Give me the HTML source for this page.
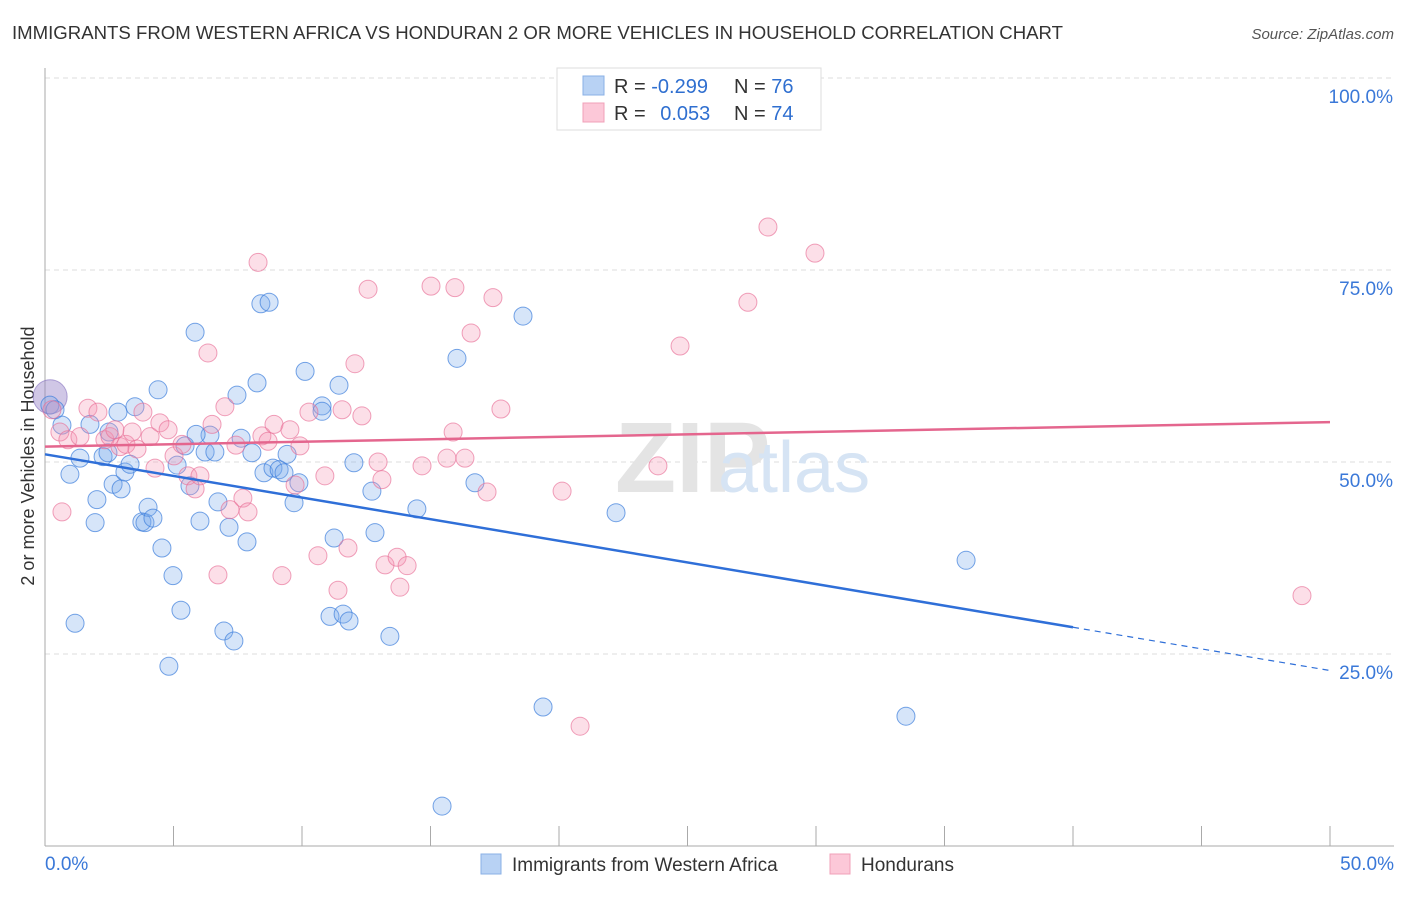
<!DOCTYPE html>
<html><head><meta charset="utf-8"><style>
body{margin:0;background:#fff;font-family:"Liberation Sans",sans-serif}
svg text{font-family:"Liberation Sans",sans-serif}
</style></head><body>
<svg id="chart" width="1406" height="892" viewBox="0 0 1406 892" xmlns="http://www.w3.org/2000/svg">
<text x="12" y="39" font-size="18.6" fill="#333">IMMIGRANTS FROM WESTERN AFRICA VS HONDURAN 2 OR MORE VEHICLES IN HOUSEHOLD CORRELATION CHART</text>
<text x="1394" y="39" font-size="15" fill="#555" font-style="italic" text-anchor="end">Source: ZipAtlas.com</text>
<g id="grid"></g>
<text x="615" y="492" font-size="100" fill="#e4e4e4" font-family="Liberation Serif" font-weight="bold">ZIP</text>
<text x="718" y="492" font-size="72" fill="#d6e4f4">atlas</text>
<g id="axes"></g>
<text transform="translate(34,456) rotate(-90)" font-size="18" fill="#333" text-anchor="middle">2 or more Vehicles in Household</text>
<g id="pts"></g>
<g id="lines"></g>
<g>
<rect x="557" y="68" width="264" height="62" fill="#fff" stroke="#ddd"/>
<rect x="583" y="76" width="21" height="19" fill="#b8d2f4" stroke="#8ab0e6"/>
<rect x="583" y="103" width="21" height="19" fill="#fcc8d8" stroke="#f0a0b8"/>
<text x="614" y="93" font-size="20" fill="#333">R = <tspan fill="#2f6fd0">-0.299</tspan></text>
<text x="734" y="93" font-size="20" fill="#333">N = <tspan fill="#2f6fd0">76</tspan></text>
<text x="614" y="120" font-size="20" fill="#333">R = <tspan fill="#2f6fd0" dx="9">0.053</tspan></text>
<text x="734" y="120" font-size="20" fill="#333">N = <tspan fill="#2f6fd0">74</tspan></text>
</g>
<g>
<rect x="481" y="854" width="20" height="20" fill="#b8d2f4" stroke="#8ab0e6"/>
<text x="512" y="871" font-size="19" fill="#333">Immigrants from Western Africa</text>
<rect x="830" y="854" width="20" height="20" fill="#fcc8d8" stroke="#f0a0b8"/>
<text x="861" y="871" font-size="19" fill="#333">Hondurans</text>
</g>
</svg>
<script>
const blueX=[0.19,0.39,0.66,0.97,1.36,1.75,1.95,2.02,2.26,2.45,2.65,2.84,2.96,3.11,3.31,3.50,3.77,3.89,4.01,4.20,4.40,4.55,4.98,5.29,5.45,5.14,5.64,5.84,6.03,6.23,6.42,6.61,6.73,6.96,7.16,7.35,7.47,7.63,7.86,8.05,8.25,8.40,8.52,8.72,8.87,9.11,9.30,9.42,9.69,9.88,10.12,10.78,10.78,11.09,11.25,11.44,11.60,11.83,12.02,12.72,12.84,13.42,14.47,16.03,16.73,18.60,19.38,22.22,35.84,33.50,15.45,1.17,4.82,2.49,5.88];
const blueY=[57.4,56.8,54.8,48.4,50.5,54.9,42.1,45.1,50.7,51.2,47.1,56.5,46.5,48.7,49.7,57.2,42.2,42.1,44.1,42.7,59.4,38.8,35.2,30.7,52.1,49.6,46.9,66.9,42.3,51.3,53.5,51.3,44.8,28.0,41.5,26.7,58.7,53.1,39.6,51.2,60.3,70.6,48.6,70.8,49.2,49.0,48.6,51.0,44.7,47.3,61.8,57.3,56.6,29.9,40.1,60.0,30.2,29.3,49.9,46.2,40.8,27.3,43.9,63.5,47.3,69.0,18.1,43.4,37.2,16.9,5.2,29.0,23.4,53.9,53.6];
const pinkX=[0.27,0.58,0.66,0.89,1.36,1.67,2.06,2.33,2.53,2.72,2.92,3.15,3.39,3.58,3.81,4.09,4.28,4.47,4.79,5.02,5.33,5.56,5.84,6.03,6.34,6.50,6.73,7.00,7.20,7.43,7.70,7.90,8.29,8.44,8.68,8.91,9.22,9.53,9.73,9.92,10.27,10.62,10.89,11.40,11.56,11.79,12.06,12.33,12.57,12.96,13.11,13.23,13.70,13.81,14.09,14.67,15.02,15.88,15.95,15.64,16.34,16.58,17.20,17.43,17.74,20.12,20.82,23.85,24.71,27.35,28.13,29.96,48.91];
const pinkY=[56.8,53.9,43.5,52.9,53.3,57.0,56.5,52.9,53.3,54.2,52.0,52.3,53.9,51.7,56.5,53.3,49.2,55.1,54.2,50.8,52.3,48.2,46.5,48.2,64.2,54.9,35.3,57.2,43.8,52.2,45.3,43.5,76.0,53.4,52.7,54.9,35.2,54.2,47.0,52.1,56.5,37.8,48.2,33.3,56.8,38.8,62.8,56.0,72.5,50.0,47.7,36.6,37.6,33.7,36.5,49.5,72.9,53.9,72.7,50.5,50.5,66.8,46.1,71.4,56.9,46.2,15.6,49.5,65.1,70.8,80.6,77.2,32.6];
const yTicks=[25,50,75,100];
const xTickLabels=["0.0%","50.0%"];
const blueTrend=[51.0,-0.563];
const pinkTrend=[52.0,0.064];
const X=v=>45+v*25.7, Y=v=>846-v*7.68;
const NS="http://www.w3.org/2000/svg";
function mk(tag,attrs,parent){const e=document.createElementNS(NS,tag);for(const k in attrs)e.setAttribute(k,attrs[k]);parent.appendChild(e);return e;}
const grid=document.getElementById('grid'),axes=document.getElementById('axes'),pts=document.getElementById('pts'),lines=document.getElementById('lines');
yTicks.forEach(t=>{
 const l=mk('line',{x1:45,x2:1394,y1:Y(t),y2:Y(t),stroke:'#ddd','stroke-dasharray':'5,4'},grid);
 
 
 const tx=mk('text',{x:1393,y:Y(t)+25,'font-size':19,fill:'#3a78d8','text-anchor':'end'},axes);
 tx.textContent=t.toFixed(1)+'%';
 
 
});
const ax=mk('line',{x1:45,x2:45,y1:68,y2:846,stroke:'#aaa'},axes);


const bx=mk('line',{x1:45,x2:1394,y1:846,y2:846,stroke:'#aaa'},axes);


for(let i=0;i<=10;i++){const t=mk('line',{x1:X(i*5),x2:X(i*5),y1:826,y2:846,stroke:'#aaa'},axes);
 
 }
const xl0=mk('text',{x:45,y:870,'font-size':19,fill:'#3a78d8'},axes);xl0.textContent=xTickLabels[0];


const xl1=mk('text',{x:1394,y:870,'font-size':19,fill:'#3a78d8','text-anchor':'end'},axes);xl1.textContent=xTickLabels[1];


const big1=mk('circle',{cx:X(0.2),cy:Y(58.5),r:17,fill:'rgba(150,130,200,0.45)',stroke:'rgba(130,110,190,0.6)'},pts);


blueX.forEach((v,i)=>{const c=mk('circle',{cx:X(v),cy:Y(blueY[i]),r:9,fill:'rgba(120,170,235,0.3)',stroke:'rgba(60,125,220,0.7)','stroke-width':1},pts);
 
 });
pinkX.forEach((v,i)=>{const c=mk('circle',{cx:X(v),cy:Y(pinkY[i]),r:9,fill:'rgba(245,150,180,0.3)',stroke:'rgba(232,110,150,0.65)','stroke-width':1},pts);
 
 });
const bf=v=>blueTrend[0]+blueTrend[1]*v, pf=v=>pinkTrend[0]+pinkTrend[1]*v;
const b1=mk('line',{x1:X(0),y1:Y(bf(0)),x2:X(40),y2:Y(bf(40)),stroke:'#2f6fd8','stroke-width':2.5},lines);


const b2=mk('line',{x1:X(40),y1:Y(bf(40)),x2:X(50),y2:Y(bf(50)),stroke:'#2f6fd8','stroke-width':1.2,'stroke-dasharray':'6,5'},lines);


const p1=mk('line',{x1:X(0),y1:Y(pf(0)),x2:X(50),y2:Y(pf(50)),stroke:'#e4668e','stroke-width':2.5},lines);


</script>
</body></html>
